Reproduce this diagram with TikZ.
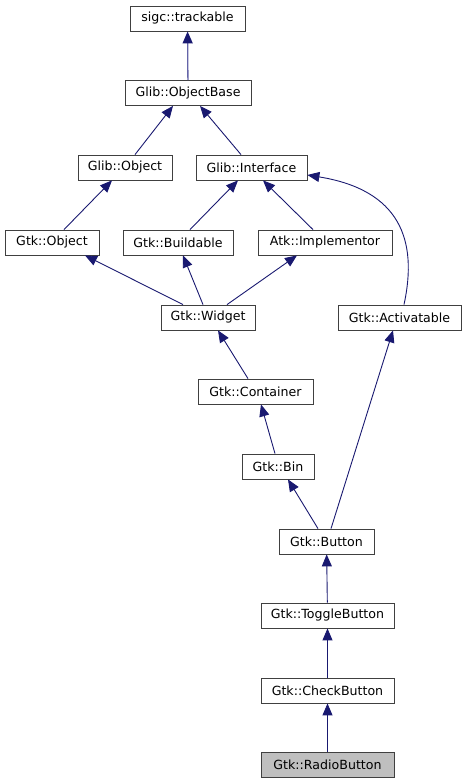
\documentclass[tikz,border=0pt]{standalone}
\usepackage{fontspec}
\setmainfont{DejaVu Sans}
\usepackage{tikz}
\usetikzlibrary{arrows.meta, positioning}
\definecolor{mnblue}{HTML}{191970}
\definecolor{lightlink}{HTML}{6464A8}
\tikzset{
    cls/.style={draw=black!75, line width=0.8pt, fill=white, minimum height=25pt, inner xsep=2pt, font=\fontsize{12.6}{14}\selectfont}, % one class box
    cur/.style={cls, fill=black!25}, % the class the diagram is for
    inh/.style={draw=mnblue, line width=0.9pt, -{Triangle[length=12pt, width=10pt, color=mnblue]}}, % inheritance edge
}
\begin{document}
\begin{tikzpicture}[x=1pt, y=-1pt]
    \useasboundingbox (0,0) rectangle (467,784);
    \node[cls, minimum width=115pt] (trk) at (187.5,18.5) {sigc::trackable};
    \node[cls, minimum width=126pt] (obase) at (188,93) {Glib::ObjectBase};
    \node[cls, minimum width=94pt] (gobj) at (125,167.5) {Glib::Object};
    \node[cls, minimum width=111pt] (gint) at (251.5,167.5) {Glib::Interface};
    \node[cls, minimum width=94pt] (gtkobj) at (52,242.5) {Gtk::Object};
    \node[cls, minimum width=110pt] (build) at (178,242.5) {Gtk::Buildable};
    \node[cls, minimum width=134pt] (impl) at (325,242.5) {Atk::Implementor};
    \node[cls, minimum width=94pt] (widget) at (208,317.5) {Gtk::Widget};
    \node[cls, minimum width=123pt] (activ) at (399.5,317.5) {Gtk::Activatable};
    \node[cls, minimum width=115pt] (cont) at (255.5,391.5) {Gtk::Container};
    \node[cls, minimum width=72pt] (bin) at (278,466.5) {Gtk::Bin};
    \node[cls, minimum width=95pt] (button) at (326.5,541.5) {Gtk::Button};
    \node[cls, minimum width=133pt] (toggle) at (327.5,615.5) {Gtk::ToggleButton};
    \node[cls, minimum width=133pt] (check) at (327.5,690.5) {Gtk::CheckButton};
    \node[cur, minimum width=133pt] (radio) at (327.5,765) {Gtk::RadioButton};

    % base classes, from child to parent
    \draw[inh, draw=lightlink, line width=1.3pt] (obase) -- (trk);
    \draw[inh] ([xshift=10pt]gobj.north) -- ([xshift=-15pt]obase.south);
    \draw[inh] ([xshift=-10.5pt]gint.north) -- ([xshift=12pt]obase.south);
    \draw[inh] ([xshift=12pt]gtkobj.north) -- ([xshift=-13pt]gobj.south);
    \draw[inh] ([xshift=12pt]build.north) -- ([xshift=-13.5pt]gint.south);
    \draw[inh] ([xshift=-12pt]impl.north) -- ([xshift=11.5pt]gint.south);
    \draw[inh] ([xshift=4.5pt]activ.north) .. controls (418,240) and (400,190) .. ([yshift=-7.5pt]gint.east);
    \draw[inh] ([xshift=-25pt]widget.north) -- ([xshift=33pt]gtkobj.south);
    \draw[inh] ([xshift=-5pt]widget.north) -- ([xshift=5pt]build.south);
    \draw[inh] ([xshift=19pt]widget.north) -- ([xshift=-28pt]impl.south);
    \draw[inh] ([xshift=-7.5pt]cont.north) -- ([xshift=10pt]widget.south);
    \draw[inh] ([xshift=-3pt]bin.north) -- ([xshift=5.5pt]cont.south);
    \draw[inh] ([xshift=-8.5pt]button.north) -- ([xshift=10pt]bin.south);
    \draw[inh] ([xshift=4.5pt]button.north) -- ([xshift=-6.5pt]activ.south);
    \draw[inh] (toggle) -- (button);
    \draw[inh] (check) -- (toggle);
    \draw[inh] (radio) -- (check);
\end{tikzpicture}
\end{document}
